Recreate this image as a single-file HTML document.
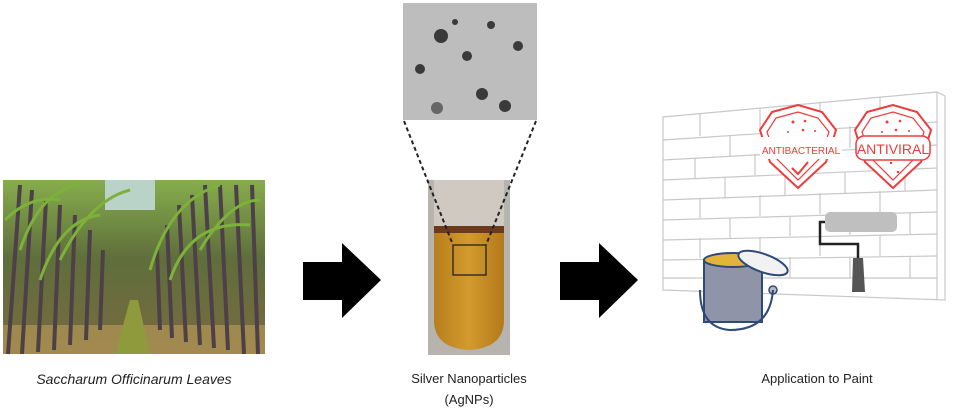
<!DOCTYPE html>
<html><head><style>
html,body{margin:0;padding:0;background:#fff;}
svg{display:block;}
text{font-family:"Liberation Sans",sans-serif;}
</style></head><body>
<svg width="975" height="412" viewBox="0 0 975 412" xmlns="http://www.w3.org/2000/svg">
<defs>
<linearGradient id="sky" x1="0" y1="0" x2="0" y2="1">
<stop offset="0" stop-color="#86ad4c"/><stop offset="0.45" stop-color="#5f6e3c"/><stop offset="1" stop-color="#7a6a40"/>
</linearGradient>
<linearGradient id="liq" x1="0" y1="0" x2="1" y2="0">
<stop offset="0" stop-color="#b77f1c"/><stop offset="0.5" stop-color="#d39a2e"/><stop offset="1" stop-color="#b27a1a"/>
</linearGradient>
</defs>
<!-- sugarcane photo -->
<rect x="3" y="180" width="262" height="174" fill="url(#sky)"/>
<rect x="105" y="180" width="50" height="30" fill="#b9d3c9"/>
<rect x="3" y="325" width="262" height="29" fill="#a88e52" opacity="0.85"/>
<polygon points="115,354 150,354 138,300 130,300" fill="#8f9a3c"/>
<g stroke="#4e4048" stroke-width="4">
<line x1="8" y1="354" x2="20" y2="185"/><line x1="22" y1="354" x2="32" y2="190"/><line x1="38" y1="352" x2="46" y2="200"/><line x1="54" y1="350" x2="60" y2="205"/><line x1="70" y1="345" x2="75" y2="215"/><line x1="86" y1="340" x2="90" y2="230"/><line x1="100" y1="330" x2="103" y2="250"/>
<line x1="160" y1="330" x2="157" y2="250"/><line x1="172" y1="338" x2="167" y2="225"/><line x1="186" y1="342" x2="179" y2="205"/><line x1="200" y1="345" x2="192" y2="195"/><line x1="214" y1="348" x2="205" y2="185"/><line x1="228" y1="350" x2="220" y2="185"/><line x1="244" y1="354" x2="236" y2="185"/><line x1="258" y1="354" x2="252" y2="185"/>
</g>
<g stroke="#7cb13a" stroke-width="3" fill="none">
<path d="M20 250 Q40 190 80 185"/><path d="M60 260 Q90 200 130 190"/><path d="M150 270 Q170 200 220 185"/><path d="M200 250 Q230 200 260 200"/><path d="M5 220 Q30 195 60 200"/><path d="M40 280 Q60 220 100 215"/><path d="M170 280 Q190 220 250 225"/>
</g>
<text x="134" y="384" font-size="14" font-style="italic" text-anchor="middle" fill="#222">Saccharum Officinarum Leaves</text>
<!-- arrows -->
<polygon points="303,262 342,262 342,243 381,280 342,318 342,300 303,300" fill="#000"/>
<polygon points="560,262 599,262 599,243 638,280 599,318 599,300 560,300" fill="#000"/>
<!-- SEM -->
<rect x="403" y="3" width="134" height="117" fill="#bdbdbd"/>
<g fill="#3a3a3a">
<circle cx="441" cy="36" r="7"/><circle cx="455" cy="22" r="3"/><circle cx="491" cy="25" r="4"/><circle cx="518" cy="46" r="5"/>
<circle cx="467" cy="56" r="5"/><circle cx="420" cy="69" r="5"/><circle cx="482" cy="94" r="6"/><circle cx="505" cy="106" r="6"/><circle cx="437" cy="108" r="6" fill="#666"/>
</g>
<!-- tube -->
<rect x="428" y="180" width="82" height="175" fill="#b7b4b0"/>
<rect x="434" y="180" width="70" height="48" fill="#cfc9c2"/>
<path d="M434 228 H504 V320 Q504 348 469 350 Q434 348 434 320 Z" fill="url(#liq)"/>
<rect x="434" y="226" width="70" height="7" fill="#6b3a1a"/>
<rect x="453" y="245" width="33" height="30" fill="none" stroke="#222" stroke-width="1.3"/>
<!-- dashed -->
<line x1="404" y1="121" x2="453" y2="245" stroke="#222" stroke-width="2" stroke-dasharray="4,3"/>
<line x1="536" y1="121" x2="486" y2="245" stroke="#222" stroke-width="2" stroke-dasharray="4,3"/>
<text x="469" y="383" font-size="13" text-anchor="middle" fill="#222">Silver Nanoparticles</text>
<text x="469" y="404" font-size="13" text-anchor="middle" fill="#222">(AgNPs)</text>
<!-- wall -->
<g stroke="#c8c8c8" stroke-width="1.2" fill="none">
<polygon points="663,117 937,92 945,96 945,300 663,290"/>
<line x1="937" y1="92" x2="937" y2="300"/>
<line x1="663" y1="140" x2="937" y2="122"/><line x1="663" y1="160" x2="937" y2="145"/><line x1="663" y1="180" x2="937" y2="168"/><line x1="663" y1="200" x2="937" y2="190"/><line x1="663" y1="220" x2="937" y2="212"/><line x1="663" y1="240" x2="937" y2="234"/><line x1="663" y1="260" x2="937" y2="256"/><line x1="663" y1="278" x2="937" y2="278"/>
<line x1="700" y1="114" x2="700" y2="136"/><line x1="760" y1="108" x2="760" y2="130"/><line x1="820" y1="102" x2="820" y2="125"/><line x1="880" y1="97" x2="880" y2="120"/>
<line x1="730" y1="135" x2="730" y2="157"/><line x1="790" y1="130" x2="790" y2="151"/><line x1="850" y1="126" x2="850" y2="148"/><line x1="910" y1="124" x2="910" y2="146"/>
<line x1="695" y1="158" x2="695" y2="178"/><line x1="755" y1="154" x2="755" y2="175"/><line x1="815" y1="150" x2="815" y2="172"/><line x1="875" y1="147" x2="875" y2="170"/>
<line x1="725" y1="177" x2="725" y2="198"/><line x1="785" y1="174" x2="785" y2="195"/><line x1="845" y1="172" x2="845" y2="193"/><line x1="905" y1="170" x2="905" y2="191"/>
<line x1="700" y1="198" x2="700" y2="218"/><line x1="760" y1="195" x2="760" y2="216"/><line x1="820" y1="193" x2="820" y2="214"/><line x1="880" y1="191" x2="880" y2="212"/>
<line x1="730" y1="218" x2="730" y2="238"/><line x1="790" y1="216" x2="790" y2="236"/><line x1="850" y1="214" x2="850" y2="235"/><line x1="910" y1="213" x2="910" y2="234"/>
<line x1="700" y1="238" x2="700" y2="258"/><line x1="760" y1="237" x2="760" y2="257"/><line x1="820" y1="236" x2="820" y2="256"/><line x1="880" y1="235" x2="880" y2="256"/>
<line x1="730" y1="258" x2="730" y2="278"/><line x1="790" y1="257" x2="790" y2="278"/><line x1="850" y1="257" x2="850" y2="278"/><line x1="910" y1="256" x2="910" y2="278"/>
</g>
<!-- shields -->
<g stroke="#ee3b3b" stroke-width="2" fill="#fff">
<path d="M772 112 L798 105 L822 112 L836 130 L826 162 L798 188 L770 162 L760 130 Z"/>
<path d="M867 112 L893 105 L917 112 L931 130 L921 162 L893 188 L865 162 L855 130 Z"/>
</g>
<g stroke="#ee3b3b" stroke-width="1.2" fill="none">
<path d="M776 118 L798 112 L818 118 L829 132 L820 158 L798 180 L776 158 L767 132 Z"/>
<path d="M871 118 L893 112 L913 118 L924 132 L915 158 L893 180 L871 158 L862 132 Z"/>
<path d="M792 168 L798 174 L808 162" stroke-width="2"/>
</g>
<rect x="760" y="137" width="82" height="22" fill="#fff"/>
<text x="801" y="154" font-size="10" text-anchor="middle" fill="#ee3b3b">ANTIBACTERIAL</text>
<rect x="856" y="136" width="74" height="24" rx="8" fill="#fff" stroke="#ee3b3b" stroke-width="1.5"/>
<text x="893" y="154" font-size="14" text-anchor="middle" fill="#ee3b3b">ANTIVIRAL</text>
<g fill="#ee3b3b"><circle cx="793" cy="122" r="1.5"/><circle cx="805" cy="121" r="1.3"/><circle cx="788" cy="132" r="1"/><circle cx="803" cy="130" r="1.3"/><circle cx="815" cy="131" r="1"/>
<circle cx="887" cy="122" r="1.5"/><circle cx="900" cy="121" r="1.3"/><circle cx="882" cy="132" r="1"/><circle cx="896" cy="130" r="1.3"/><circle cx="909" cy="131" r="1"/><circle cx="891" cy="163" r="1.2"/><circle cx="898" cy="172" r="1.2"/></g>
<!-- roller -->
<rect x="825" y="212" width="72" height="20" rx="5" fill="#bfbfbf"/>
<path d="M825 222 H820 V244 H858 V258" stroke="#222" stroke-width="2.5" fill="none"/>
<polygon points="853,258 863,258 865,292 852,292" fill="#555"/>
<!-- paint can -->
<path d="M704 260 H762 V322 H704 Z" fill="#8f94a8" stroke="#2e4a7a" stroke-width="2"/>
<ellipse cx="733" cy="260" rx="29" ry="7" fill="#e2b53a" stroke="#2e4a7a" stroke-width="2"/>
<ellipse cx="763" cy="263" rx="26" ry="9" transform="rotate(20 763 263)" fill="#f2f2f2" stroke="#2e4a7a" stroke-width="2"/>
<circle cx="773" cy="290" r="4" fill="#bbb" stroke="#2e4a7a" stroke-width="1.5"/>
<path d="M773 290 Q770 330 730 330 Q700 328 700 290" stroke="#2e4a7a" stroke-width="2" fill="none"/>
<text x="817" y="383" font-size="13" text-anchor="middle" fill="#222">Application to Paint</text>
</svg>
</body></html>
